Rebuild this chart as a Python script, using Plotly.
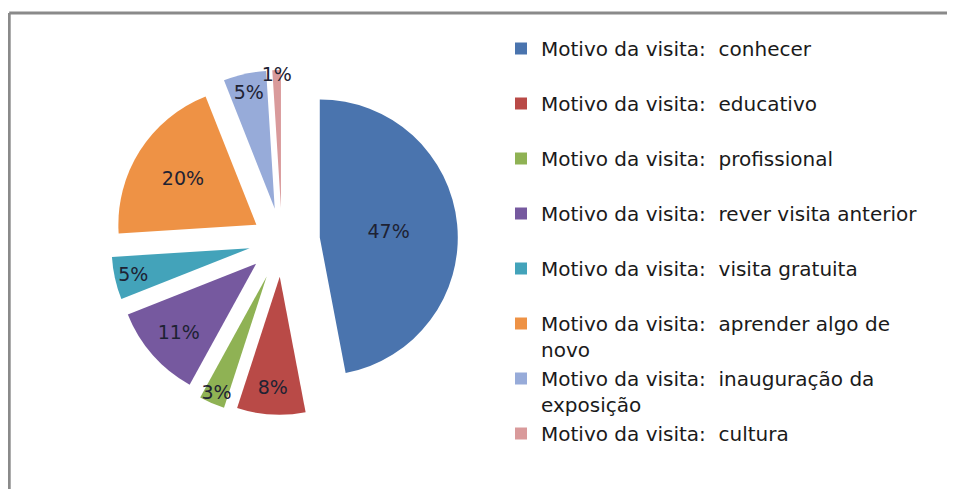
import plotly.graph_objects as go

NBSP = "\u00a0"
prefix = "Motivo da visita:" + NBSP + " "
categories = [
    "conhecer",
    "educativo",
    "profissional",
    "rever visita anterior",
    "visita gratuita",
    "aprender algo de<br>novo",
    "inauguração da<br>exposição",
    "cultura",
]
values = [47, 8, 3, 11, 5, 20, 5, 1]
colors = ["#4a74ae", "#b94a47", "#8fb254", "#76599f", "#43a3ba", "#ee9245", "#97abd9", "#d99a9b"]
pulls = [0.275, 0.26, 0.28, 0.25, 0.24, 0.22, 0.24, 0.24]
text_positions = ["inside"] * 8

labels = []
for c in categories:
    lab = prefix + c
    if "<br>" not in c:
        lab += "<br>" + NBSP
    labels.append(lab)

# page is rendered with an 8px body margin
OFF = 8
W, H = 955 - OFF, 489 - OFF
cx, cy, R = 282 - OFF, 241 - OFF, 138
half = R * (1 + max(pulls))

fig = go.Figure(
    go.Pie(
        labels=labels,
        values=values,
        sort=False,
        direction="clockwise",
        rotation=0,
        pull=pulls,
        marker=dict(colors=colors, line=dict(width=0)),
        textinfo="percent",
        textposition=text_positions,
        insidetextorientation="horizontal",
        textfont=dict(family="DejaVu Sans, sans-serif", size=19, color="#1e2233"),
        domain=dict(
            x=[(cx - half) / W, (cx + half) / W],
            y=[(H - (cy + half)) / H, (H - (cy - half)) / H],
        ),
        hoverinfo="label+percent",
    )
)

border_y = (H - (13 - OFF)) / H
border_x = 1.2 / W
fig.update_layout(
    width=W,
    height=H,
    margin=dict(l=0, r=0, t=0, b=0, pad=0, autoexpand=False),
    paper_bgcolor="white",
    plot_bgcolor="white",
    uniformtext=dict(minsize=19, mode="show"),
    showlegend=True,
    legend=dict(
        x=(501 - OFF) / W,
        xanchor="left",
        y=(H - (29 - OFF)) / H,
        yanchor="top",
        valign="top",
        font=dict(family="DejaVu Sans, sans-serif", size=20, color="#1a1a1a"),
        bgcolor="rgba(0,0,0,0)",
        borderwidth=0,
        traceorder="normal",
    ),
    shapes=[
        dict(type="line", xref="paper", yref="paper", x0=border_x, x1=border_x, y0=0, y1=border_y,
             line=dict(color="#8a8a8a", width=3)),
        dict(type="line", xref="paper", yref="paper", x0=border_x, x1=1, y0=border_y, y1=border_y,
             line=dict(color="#8a8a8a", width=3)),
    ],
)

fig.write_html("out.html")
